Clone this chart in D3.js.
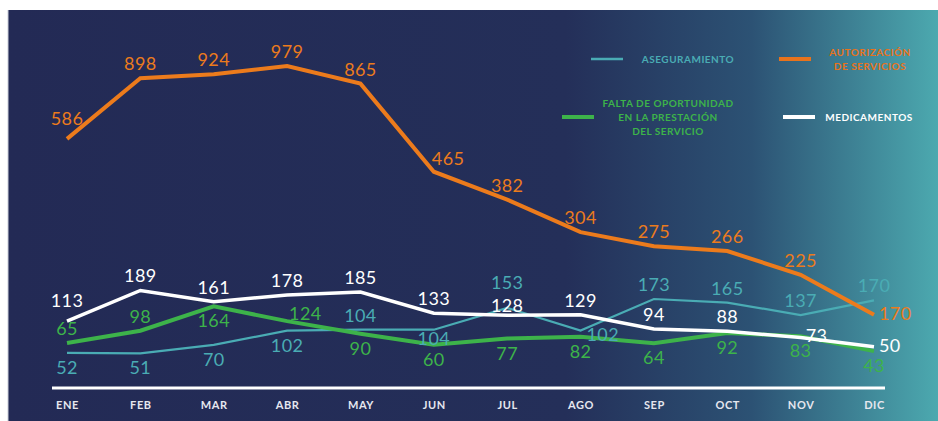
<!DOCTYPE html>
<html lang="es">
<head>
    <meta charset="UTF-8">
    <title>Quejas por mes</title>
    <script src="https://d3js.org/d3.v7.min.js"></script>
    <style>
        body { margin: 0; background: #fff; }
        svg { display: block; }
        text { font-family: Lato, "Open Sans", sans-serif; }
    </style>
</head>
<body>
<svg></svg>
<script>
    // data
    const months = ["ENE", "FEB", "MAR", "ABR", "MAY", "JUN", "JUL", "AGO", "SEP", "OCT", "NOV", "DIC"];
    const autorizacion = [586, 898, 924, 979, 865, 465, 382, 304, 275, 266, 225, 170];
    const medicamentos = [113, 189, 161, 178, 185, 133, 128, 129, 94, 88, 73, 50];
    const faltaOportunidad = [65, 98, 164, 124, 90, 60, 77, 82, 64, 92, 83, 43];
    const aseguramiento = [52, 51, 70, 102, 104, 104, 153, 102, 173, 165, 137, 170];

    // where each value label sits relative to its point
    const posAutorizacion = ["th", "t", "t", "t", "t", "tr", "t", "t", "t", "t", "t", "r"];
    const posMedicamentos = ["th", "t", "t", "t", "t", "t", "tn", "t", "t", "t", "r", "r"];
    const posFalta = ["t", "t", "b", "rt", "b", "b", "b", "b", "b", "b", "b", "b"];
    const posAseguramiento = ["b", "b", "b", "b", "t", "bn", "tu", "br", "t", "t", "t", "t"];

    const width = 938, height = 421;
    const svg = d3.select("svg").attr("width", width).attr("height", height);

    // background panel with gradient to the right
    const defs = svg.append("defs");
    const grad = defs.append("linearGradient").attr("id", "bg")
        .attr("x1", "0%").attr("x2", "100%").attr("y1", "0%").attr("y2", "0%");
    grad.append("stop").attr("offset", "0%").attr("stop-color", "#232a55");
    grad.append("stop").attr("offset", "60%").attr("stop-color", "#242f59");
    grad.append("stop").attr("offset", "80%").attr("stop-color", "#2c5274");
    grad.append("stop").attr("offset", "100%").attr("stop-color", "#4ca9af");

    svg.append("rect").attr("x", 8).attr("y", 10)
        .attr("width", width - 8).attr("height", height - 10)
        .attr("fill", "url(#bg)");
    svg.append("line").attr("x1", 8).attr("x2", 8).attr("y1", 10).attr("y2", height)
        .attr("stroke", "#c9ccd8").attr("stroke-width", 1);

    const x = d3.scalePoint().domain(months).range([67, 874]);

    // the original is an infographic, each series gets its own vertical scale
    const series = [
        {name: "aseguramiento", values: aseguramiento, pos: posAseguramiento, color: "#4aacb4", width: 2.2,
            y: d3.scaleLinear().domain([0, 200]).range([376, 287])},
        {name: "falta", values: faltaOportunidad, pos: posFalta, color: "#3db34a", width: 4,
            y: d3.scaleLinear().domain([0, 200]).range([367, 293])},
        {name: "medicamentos", values: medicamentos, pos: posMedicamentos, color: "#ffffff", width: 3.5,
            y: d3.scaleLinear().domain([0, 200]).range([367, 286])},
        {name: "autorizacion", values: autorizacion, pos: posAutorizacion, color: "#ec7b1c", width: 4,
            y: d3.scaleLog().domain([100, 1000]).range([390, 63])}
    ];

    const labelOffset = {
        t: {anchor: "middle", dx: 0, dy: -8},
        th: {anchor: "middle", dx: 0, dy: -14},
        tu: {anchor: "middle", dx: 0, dy: -19},
        tn: {anchor: "middle", dx: 0, dy: -3},
        b: {anchor: "middle", dx: 0, dy: 21},
        bn: {anchor: "middle", dx: 0, dy: 15},
        tr: {anchor: "start", dx: -2, dy: -7},
        r: {anchor: "start", dx: 5, dy: 5},
        rt: {anchor: "start", dx: 2, dy: -1},
        br: {anchor: "start", dx: 6, dy: 10}
    };

    series.forEach(s => {
        const line = d3.line()
            .x((d, i) => x(months[i]))
            .y(d => s.y(d));
        svg.append("path")
            .datum(s.values)
            .attr("fill", "none")
            .attr("stroke", s.color)
            .attr("stroke-width", s.width)
            .attr("stroke-linejoin", "miter")
            .attr("d", line);
    });

    series.forEach(s => {
        svg.append("g").selectAll("text")
            .data(s.values)
            .join("text")
            .attr("x", (d, i) => x(months[i]) + labelOffset[s.pos[i]].dx)
            .attr("y", (d, i) => s.y(d) + labelOffset[s.pos[i]].dy)
            .attr("text-anchor", (d, i) => labelOffset[s.pos[i]].anchor)
            .attr("fill", s.color)
            .style("font-size", "18px")
            .style("letter-spacing", "0.4px")
            .text(d => d);
    });

    // x axis: white baseline and month names
    const axis = svg.append("g").attr("transform", "translate(0,388)")
        .call(d3.axisBottom(x).tickSize(0).tickPadding(13));
    axis.select(".domain").remove();
    axis.append("line").attr("x1", 52).attr("x2", 885)
        .attr("stroke", "#ffffff").attr("stroke-width", 3);
    axis.selectAll(".tick text")
        .attr("fill", "#e6e7ef")
        .style("font-size", "11px")
        .style("font-weight", "bold")
        .style("letter-spacing", "0.6px");

    // legend
    const legend = [
        {label: ["ASEGURAMIENTO"], color: "#4aacb4", lx: 591, tx: 688, y: 59, w: 2.5},
        {label: ["AUTORIZACIÓN", "DE SERVICIOS"], color: "#e8731c", lx: 779, tx: 870, y: 59, w: 4},
        {label: ["FALTA DE OPORTUNIDAD", "EN LA PRESTACIÓN", "DEL SERVICIO"], color: "#3db34a", lx: 562, tx: 668, y: 117, w: 4},
        {label: ["MEDICAMENTOS"], color: "#ffffff", lx: 783, tx: 869, y: 117, w: 4}
    ];
    const lg = svg.append("g").selectAll("g").data(legend).join("g");
    lg.append("line")
        .attr("x1", d => d.lx).attr("x2", d => d.lx + 32)
        .attr("y1", d => d.y).attr("y2", d => d.y)
        .attr("stroke", d => d.color).attr("stroke-width", d => d.w);
    lg.each(function (d) {
        const n = d.label.length;
        d3.select(this).selectAll("text")
            .data(d.label)
            .join("text")
            .attr("x", d.tx)
            .attr("y", (t, i) => d.y + 4 + (i - (n - 1) / 2) * 14)
            .attr("text-anchor", "middle")
            .attr("fill", d.color)
            .style("font-size", "10px")
            .style("font-weight", "bold")
            .style("letter-spacing", "0.5px")
            .text(t => t);
    });
</script>
</body>
</html>
